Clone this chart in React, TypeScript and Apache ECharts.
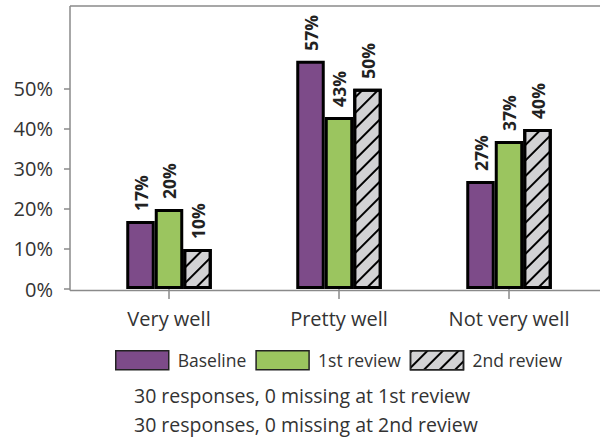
import React, { useEffect, useRef } from "react";
import * as echarts from "echarts";

const categories = ["Very well", "Pretty well", "Not very well"];
const seriesNames = ["Baseline", "1st review", "2nd review"];
const baseline = [17, 57, 27];
const firstReview = [20, 43, 37];
const secondReview = [10, 50, 40];
const yTicks = [0, 10, 20, 30, 40, 50];
const footnotes = [
  "30 responses, 0 missing at 1st review",
  "30 responses, 0 missing at 2nd review",
];

const FONT = "'Open Sans', sans-serif";
const FRAME = "#8a8a8a";

export default function App() {
  const ref = useRef<HTMLDivElement>(null);
  useEffect(() => {
    document.body.style.margin = "0";
    if (!ref.current) return;
    const chart = echarts.init(ref.current, undefined, { renderer: "svg" });
    const label = {
      show: true,
      position: "top",
      rotate: 90,
      align: "left",
      verticalAlign: "middle",
      distance: 10,
      formatter: "{c}%",
      fontFamily: FONT,
      fontSize: 17.5,
      fontWeight: "bold",
      color: "#222",
    };
    const mk = (name: string, data: number[], color: string, decal?: any) => ({
      name,
      type: "bar",
      data,
      barWidth: 28.5,
      barGap: "0%",
      itemStyle: {
        color,
        borderColor: "#000",
        borderWidth: 3,
        ...(decal ? { decal } : {}),
      },
      label,
    });
    const hatch = {
      symbol: "rect",
      symbolSize: 1,
      dashArrayX: [[1, 0]],
      dashArrayY: [2, 9],
      rotation: -Math.PI / 4,
      color: "#000",
    };
    chart.setOption({
      animation: false,
      grid: { left: 84, right: 6, top: 6, bottom: 150, containLabel: false },
      xAxis: {
        type: "category",
        data: categories,
        axisLine: { show: false },
        axisTick: { show: true, alignWithLabel: true, length: 10, lineStyle: { color: FRAME, width: 1.5 } },
        axisLabel: { margin: 19, fontFamily: FONT, fontSize: 20, color: "#333" },
      },
      yAxis: {
        type: "value",
        min: 0,
        max: 70.7,
        interval: 10,
        offset: 14,
        splitLine: { show: false },
        axisLine: { show: false },
        axisTick: { show: true, length: 6, customValues: yTicks, lineStyle: { color: FRAME, width: 1.5 } },
        axisLabel: {
          margin: 17,
          customValues: yTicks,
          formatter: "{value}%",
          fontFamily: FONT,
          fontSize: 20,
          color: "#333",
        },
      },
      legend: {
        left: 115,
        top: 350,
        padding: 0,
        itemWidth: 53,
        itemHeight: 19,
        itemGap: 9,
        icon: "rect",
        data: seriesNames,
        itemStyle: { borderWidth: 1.5, borderColor: "#222" },
        textStyle: { fontFamily: FONT, fontSize: 17.5, color: "#333", padding: [0, 0, 0, 4] },
      },
      graphic: [
        { type: "line", shape: { x1: 70, y1: 6, x2: 70, y2: 290.5 }, style: { stroke: FRAME, lineWidth: 1.5 } },
        { type: "line", shape: { x1: 70, y1: 6, x2: 600, y2: 6 }, style: { stroke: FRAME, lineWidth: 1.5 } },
        { type: "line", shape: { x1: 70, y1: 290.5, x2: 600, y2: 290.5 }, style: { stroke: FRAME, lineWidth: 1.5 } },
        ...footnotes.map((t, i) => ({
          type: "text",
          left: 134,
          top: 385 + i * 29,
          style: { text: t, fontFamily: FONT, fontSize: 19.5, fill: "#333" },
        })),
      ],
      series: [
        mk(seriesNames[0], baseline, "#7d4b89"),
        mk(seriesNames[1], firstReview, "#9bc55f"),
        mk(seriesNames[2], secondReview, "#d2d2d4", hatch),
      ],
    });
    return () => chart.dispose();
  }, []);
  return <div ref={ref} style={{ width: 600, height: 439 }} />;
}
